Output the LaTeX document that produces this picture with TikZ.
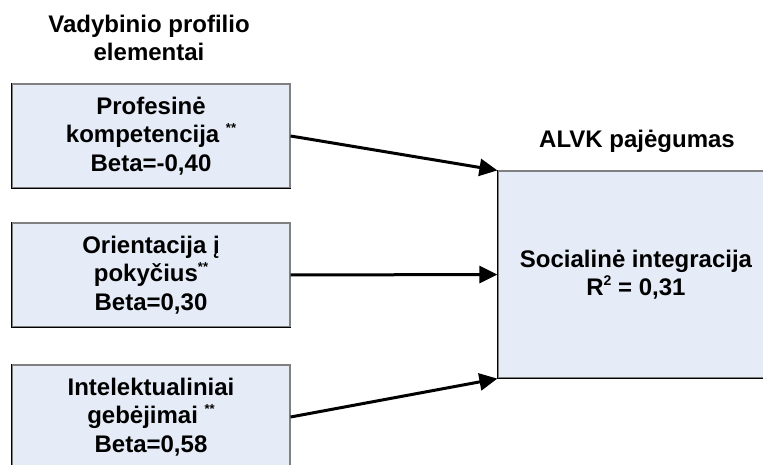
\documentclass[tikz,border=0pt]{standalone}
\usepackage{fontspec}
\setmainfont{Liberation Sans}
\usetikzlibrary{arrows.meta}
\definecolor{boxfill}{RGB}{230,236,247}
\definecolor{edgegray}{RGB}{128,128,128}
% significance marks and superscripts set small and raised
\newcommand{\sigmark}{\raisebox{0.42em}{\fontsize{13}{13}\selectfont **}}
\newcommand{\upsmall}[1]{\raisebox{0.42em}{\fontsize{14}{14}\selectfont #1}}
\begin{document}
\begin{tikzpicture}[x=1pt,y=-1pt,
  every node/.style={font=\fontsize{24}{28.5}\bfseries\selectfont, inner sep=0pt},
  heading/.style={align=center},
  factor/.style={draw=edgegray, line width=1.2pt, fill=boxfill, align=center,
    minimum width=278pt, minimum height=104pt},
  outcome/.style={draw=edgegray, line width=1.2pt, fill=boxfill, align=center,
    minimum width=276pt, minimum height=207pt},
  shadeedge/.style={draw=black, line width=1.3pt},
  link/.style={line width=3pt, -{Triangle[length=18pt,width=17pt]}}]
\clip (0,0) rectangle (763,465);
\useasboundingbox (0,0) rectangle (763,465);

% column headings
\node[heading] (h1) at (149,38) {Vadybinio profilio\\elementai};
\node[heading, anchor=base] (h2) at (637,148) {ALVK pajėgumas};

% predictor boxes
\node[factor] (b1) at (151,136) {Profesinė\\kompetencija \sigmark\\Beta=-0,40};
\node[factor] (b2) at (151,275) {Orientacija į\\pokyčius\sigmark\\Beta=0,30};
\node[factor] (b3) at (151,417) {Intelektualiniai\\gebėjimai \sigmark\\Beta=0,58};

% outcome box
\node[outcome] (r) at (636,274.5) {Socialinė integracija\\R\upsmall{2} = 0,31};

% darker left and bottom edges
\foreach \n in {b1,b2,b3,r}{
  \draw[shadeedge] (\n.north west) -- (\n.south west) -- (\n.south east);
}

% effects
\draw[link] (b1.east) -- (r.north west);
\draw[link] (b2.east) -- (r.west);
\draw[link] (b3.east) -- (r.south west);
\end{tikzpicture}
\end{document}
